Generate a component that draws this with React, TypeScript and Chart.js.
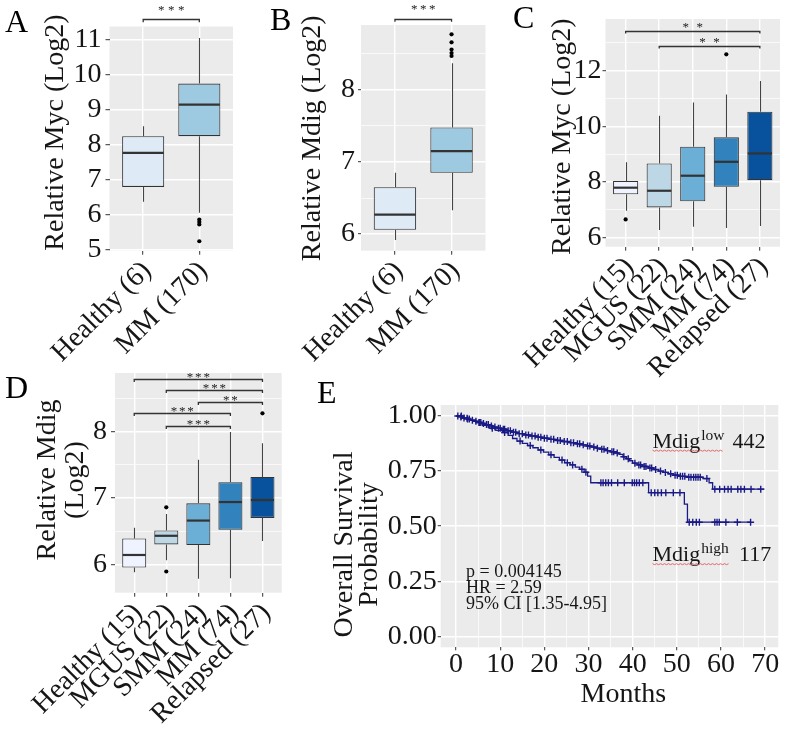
import React, { useEffect, useRef } from 'react';
import { Chart, registerables } from 'chart.js';

Chart.register(...registerables);

const SERIF = "'Liberation Serif', 'Times New Roman', Times, serif";
const PANEL_BG = '#ebebeb';
const INK = '#161616';
const BOX_LINE = '#333333';
const KM_COLOR = '#1a1a86';

/* ---------------- Panel A : Myc, Healthy vs MM ---------------- */
const A_CATEGORIES = ['Healthy (6)', 'MM (170)'];
const A_WHISKER_LOW = [6.38, 6.06];
const A_Q1 = [6.8, 8.25];
const A_MEDIAN = [7.77, 9.15];
const A_Q3 = [8.25, 9.75];
const A_WHISKER_HIGH = [8.53, 11.05];
const A_OUTLIERS = [[], [5.87, 5.8, 5.73, 5.25]];
const A_Y_TICKS = [5, 6, 7, 8, 9, 10, 11];
const A_FILLS = ['#deebf7', '#9ecae1'];
const A_BRACKETS = [{ from: 1, to: 2, y: 11.6, label: '***' }];

/* ---------------- Panel B : Mdig, Healthy vs MM ---------------- */
const B_CATEGORIES = ['Healthy (6)', 'MM (170)'];
const B_WHISKER_LOW = [5.92, 6.33];
const B_Q1 = [6.06, 6.85];
const B_MEDIAN = [6.27, 7.15];
const B_Q3 = [6.65, 7.48];
const B_WHISKER_HIGH = [6.85, 8.37];
const B_OUTLIERS = [[], [8.77, 8.66, 8.56, 8.51, 8.47]];
const B_Y_TICKS = [6, 7, 8];
const B_FILLS = ['#deebf7', '#9ecae1'];
const B_BRACKETS = [{ from: 1, to: 2, y: 8.98, label: '***' }];

/* ---------------- Panel C : Myc by stage ---------------- */
const C_CATEGORIES = ['Healthy (15)', 'MGUS (22)', 'SMM (24)', 'MM (74)', 'Relapsed (27)'];
const C_WHISKER_LOW = [6.97, 6.28, 6.4, 6.35, 6.42];
const C_Q1 = [7.56, 7.09, 7.31, 7.83, 8.07];
const C_MEDIAN = [7.8, 7.69, 8.23, 8.73, 9.03];
const C_Q3 = [8.04, 8.67, 9.27, 9.61, 10.53];
const C_WHISKER_HIGH = [8.71, 10.38, 10.86, 11.15, 11.63];
const C_OUTLIERS = [[6.66], [], [], [12.59], []];
const C_Y_TICKS = [6, 8, 10, 12];
const STAGE_FILLS = ['#eff3ff', '#bdd7e7', '#6baed6', '#3182bd', '#08519c'];
const C_BRACKETS = [
  { from: 1, to: 5, y: 13.44, label: '**' },
  { from: 2, to: 5, y: 12.9, label: '**' },
];

/* ---------------- Panel D : Mdig by stage ---------------- */
const D_CATEGORIES = ['Healthy (15)', 'MGUS (22)', 'SMM (24)', 'MM (74)', 'Relapsed (27)'];
const D_WHISKER_LOW = [5.88, 6.06, 5.78, 5.79, 6.35];
const D_Q1 = [5.95, 6.3, 6.29, 6.52, 6.7];
const D_MEDIAN = [6.14, 6.43, 6.66, 6.94, 6.97];
const D_Q3 = [6.39, 6.51, 6.92, 7.24, 7.32];
const D_WHISKER_HIGH = [6.55, 6.76, 7.58, 8.0, 7.83];
const D_OUTLIERS = [[], [6.86, 5.89], [], [], [8.28]];
const D_Y_TICKS = [6, 7, 8];
const D_BRACKETS = [
  { from: 1, to: 5, y: 8.8, label: '***' },
  { from: 2, to: 5, y: 8.63, label: '***' },
  { from: 3, to: 5, y: 8.45, label: '**' },
  { from: 1, to: 4, y: 8.28, label: '***' },
  { from: 2, to: 4, y: 8.09, label: '***' },
];

/* ---------------- Panel E : Kaplan-Meier ---------------- */
const E_LOW_TIME = [0, 0.7, 1.5, 2.4, 3.3, 4.2, 5.0, 5.8, 6.7, 7.5, 8.4, 9.3, 10.2, 11.4, 12.6, 13.9, 15.3, 16.8, 18.2, 19.6, 21.0, 22.5, 24.1, 25.6, 27.0, 28.3, 29.5, 30.6, 31.7, 32.8, 33.9, 35.0, 36.0, 36.9, 37.8, 38.6, 39.3, 40.0, 41.0, 42.2, 43.5, 44.7, 45.9, 47.0, 48.1, 49.2, 50.5, 52.3, 55.9, 57.3, 58.1, 69.8];
const E_LOW_SURV = [1, 0.996, 0.991, 0.986, 0.981, 0.976, 0.971, 0.966, 0.961, 0.955, 0.95, 0.945, 0.94, 0.933, 0.926, 0.92, 0.914, 0.909, 0.904, 0.899, 0.894, 0.889, 0.884, 0.879, 0.874, 0.869, 0.864, 0.859, 0.854, 0.849, 0.843, 0.838, 0.832, 0.826, 0.815, 0.806, 0.797, 0.786, 0.778, 0.771, 0.764, 0.757, 0.75, 0.744, 0.738, 0.731, 0.726, 0.722, 0.716, 0.697, 0.668, 0.668];
const E_HIGH_TIME = [0, 1.5, 3, 4.5, 6, 7.5, 9, 10.5, 11.8, 12.8, 13.8, 15, 16.2, 17.4, 18.6, 19.8, 21, 22.2, 23.4, 24.6, 25.8, 27, 28, 29, 29.8, 30.5, 43.6, 51.7, 52.4, 66.7];
const E_HIGH_SURV = [1, 0.99, 0.98, 0.97, 0.958, 0.945, 0.935, 0.925, 0.912, 0.898, 0.886, 0.876, 0.866, 0.856, 0.846, 0.836, 0.824, 0.812, 0.8, 0.788, 0.778, 0.768, 0.758, 0.745, 0.727, 0.697, 0.652, 0.6, 0.518, 0.518];
const E_LOW_CENSOR = [0.4, 1.1, 1.8, 2.6, 3.0, 3.7, 4.5, 5.3, 5.6, 6.2, 6.9, 7.3, 8.0, 8.8, 9.6, 10.0, 10.7, 11.0, 11.8, 12.3, 13.0, 13.5, 14.3, 15.0, 15.8, 16.4, 17.2, 17.9, 18.6, 19.2, 20.0, 20.6, 21.5, 22.1, 23.0, 23.6, 24.5, 25.2, 26.0, 26.6, 27.5, 28.0, 28.8, 29.8, 30.3, 31.2, 32.0, 33.0, 33.5, 34.3, 35.3, 35.7, 36.5, 38.0, 39.0, 40.5, 41.4, 41.8, 42.6, 43.0, 43.9, 44.3, 45.2, 46.3, 47.4, 48.6, 49.6, 50.1, 50.8, 51.3, 51.8, 52.7, 53.2, 53.8, 54.3, 54.8, 55.3, 56.8, 58.6, 59.7, 60.8, 61.6, 62.3, 63.8, 64.5, 65.3, 66.8, 69.0];
const E_HIGH_CENSOR = [1.2, 2.5, 5.2, 8.2, 11.0, 14.5, 16.8, 19.2, 21.5, 24.0, 25.2, 26.4, 28.5, 29.4, 32.8, 33.3, 33.9, 34.5, 35.2, 36.6, 38.1, 39.9, 40.4, 40.9, 41.5, 42.3, 44.2, 45.0, 45.7, 46.5, 47.5, 49.2, 50.7, 52.8, 53.6, 54.4, 55.1, 58.6, 59.1, 59.6, 61.1, 63.7, 66.7];
const E_X_TICKS = [0, 10, 20, 30, 40, 50, 60, 70];
const E_Y_TICKS = [0, 0.25, 0.5, 0.75, 1];
const E_GROUP_NAMES = ['Mdig', 'Mdig'];
const E_GROUP_SUPS = ['low', 'high'];
const E_GROUP_COUNTS = ['442', '117'];
const E_STATS_TEXT = ['p = 0.004145', 'HR = 2.59', '95% CI [1.35-4.95]'];

/* ---------------- helpers ---------------- */
type Frame = { left: number; top: number; width: number; height: number };
type Area = { left: number; top: number; right: number; bottom: number };
type Bracket = { from: number; to: number; y: number; label: string };

function minorTicks(major: number[], min: number, max: number): number[] {
  const out: number[] = [];
  const step = major[1] - major[0];
  for (let i = 0; i < major.length - 1; i++) out.push((major[i] + major[i + 1]) / 2);
  const before = major[0] - step / 2;
  const after = major[major.length - 1] + step / 2;
  if (before >= min) out.push(before);
  if (after <= max) out.push(after);
  return out;
}

function inList(list: number[], v: number) {
  return list.some((t) => Math.abs(t - v) < 1e-6);
}

function stepValue(times: number[], surv: number[], t: number) {
  let s = surv[0];
  for (let i = 0; i < times.length; i++) if (times[i] <= t) s = surv[i];
  return s;
}

function drawRotatedTitle(ctx: CanvasRenderingContext2D, lines: string[], xs: number[], cy: number, size: number) {
  ctx.save();
  ctx.fillStyle = INK;
  ctx.font = `${size}px ${SERIF}`;
  ctx.textAlign = 'center';
  ctx.textBaseline = 'alphabetic';
  lines.forEach((line, i) => {
    ctx.save();
    ctx.translate(xs[i], cy);
    ctx.rotate(-Math.PI / 2);
    ctx.fillText(line, 0, 0);
    ctx.restore();
  });
  ctx.restore();
}

function drawLetter(ctx: CanvasRenderingContext2D, letter: string, x: number, y: number) {
  ctx.save();
  ctx.fillStyle = '#000';
  ctx.font = `32px ${SERIF}`;
  ctx.textAlign = 'left';
  ctx.textBaseline = 'alphabetic';
  ctx.fillText(letter, x, y);
  ctx.restore();
}

function fillPanel(chart: any) {
  const { ctx, chartArea: a } = chart;
  ctx.save();
  ctx.fillStyle = PANEL_BG;
  ctx.fillRect(a.left, a.top, a.right - a.left, a.bottom - a.top);
  ctx.restore();
}

type BoxSpec = {
  letter: string;
  categories: string[];
  low: number[];
  q1: number[];
  median: number[];
  q3: number[];
  high: number[];
  outliers: number[][];
  fills: string[];
  yTicks: number[];
  brackets: Bracket[];
  title: string[];
  // layout
  yMin: number;
  yMax: number;
  frame: Frame;
  area: Area;
  titleX: number[];
  titleY: number;
  letterAt: [number, number];
  yTickLen: number;
  yTickPad: number;
  xTickPad: number;
  xLabelShift: number;
  starLift: number;
  starStep: number;
  bracketDrop: number;
};

function makeBoxChart(canvas: HTMLCanvasElement, s: BoxSpec) {
  const n = s.categories.length;
  const minors = minorTicks(s.yTicks, s.yMin, s.yMax);
  const allY = [...s.yTicks, ...minors].sort((a, b) => a - b);
  const tickFont = { family: SERIF, size: 28, lineHeight: 1 };

  const plugin = {
    id: 'boxplot-' + s.letter,
    beforeDraw(chart: any) {
      fillPanel(chart);
    },
    beforeDatasetsDraw(chart: any) {
      const { ctx } = chart;
      const xs = chart.scales.x;
      const ys = chart.scales.y;
      ctx.save();
      ctx.strokeStyle = '#444';
      ctx.lineWidth = 1.1;
      for (let i = 0; i < n; i++) {
        const x = Math.round(xs.getPixelForValue(i + 1)) + 0.5;
        ctx.beginPath();
        ctx.moveTo(x, ys.getPixelForValue(s.high[i]));
        ctx.lineTo(x, ys.getPixelForValue(s.q3[i]));
        ctx.moveTo(x, ys.getPixelForValue(s.q1[i]));
        ctx.lineTo(x, ys.getPixelForValue(s.low[i]));
        ctx.stroke();
      }
      ctx.restore();
    },
    afterDatasetsDraw(chart: any) {
      const { ctx } = chart;
      const xs = chart.scales.x;
      const ys = chart.scales.y;
      const meta = chart.getDatasetMeta(0);
      ctx.save();
      ctx.strokeStyle = BOX_LINE;
      ctx.lineWidth = 2.2;
      for (let i = 0; i < n; i++) {
        const el: any = meta.data[i];
        const x = xs.getPixelForValue(i + 1);
        const w = el.width;
        const y = ys.getPixelForValue(s.median[i]);
        ctx.beginPath();
        ctx.moveTo(x - w / 2 + 0.5, y);
        ctx.lineTo(x + w / 2 - 0.5, y);
        ctx.stroke();
      }
      // significance brackets
      ctx.strokeStyle = '#333';
      ctx.lineWidth = 1.3;
      ctx.fillStyle = '#222';
      ctx.font = `13px ${SERIF}`;
      ctx.textAlign = 'center';
      ctx.textBaseline = 'alphabetic';
      for (const b of s.brackets) {
        const x1 = xs.getPixelForValue(b.from);
        const x2 = xs.getPixelForValue(b.to);
        const y = Math.round(ys.getPixelForValue(b.y)) + 0.5;
        ctx.beginPath();
        ctx.moveTo(x1, y + s.bracketDrop);
        ctx.lineTo(x1, y);
        ctx.lineTo(x2, y);
        ctx.lineTo(x2, y + s.bracketDrop);
        ctx.stroke();
        const mid = (x1 + x2) / 2;
        const cnt = b.label.length;
        for (let k = 0; k < cnt; k++) {
          const sx = mid + (k - (cnt - 1) / 2) * s.starStep;
          ctx.fillText(b.label[k], sx, y - s.starLift + 7);
        }
      }
      ctx.restore();
    },
    afterDraw(chart: any) {
      drawRotatedTitle(chart.ctx, s.title, s.titleX, s.titleY, 28);
      drawLetter(chart.ctx, s.letter, s.letterAt[0], s.letterAt[1]);
    },
  };

  const outlierPoints: { x: number; y: number }[] = [];
  s.outliers.forEach((arr, i) => arr.forEach((v) => outlierPoints.push({ x: i + 1, y: v })));

  return new Chart(canvas, {
    type: 'bar',
    data: {
      datasets: [
        {
          type: 'bar',
          data: s.categories.map((_, i) => ({ x: i + 1, y: [s.q1[i], s.q3[i]] })) as any,
          backgroundColor: s.fills,
          borderColor: BOX_LINE,
          borderWidth: 1.1,
          borderSkipped: false,
          barPercentage: 0.75,
          categoryPercentage: 1,
        } as any,
        {
          type: 'scatter',
          data: outlierPoints,
          pointRadius: 2.1,
          pointBackgroundColor: '#000',
          backgroundColor: '#000',
          pointBorderWidth: 0,
        } as any,
      ],
    },
    options: {
      animation: false,
      responsive: false,
      maintainAspectRatio: false,
      devicePixelRatio: 1,
      events: [],
      layout: {
        padding: { left: 0, top: s.area.top, right: s.frame.width - s.area.right, bottom: 0 },
      },
      plugins: { legend: { display: false }, tooltip: { enabled: false } },
      scales: {
        x: {
          type: 'linear',
          min: 0.4,
          max: n + 0.6,
          offset: false,
          afterBuildTicks: (sc: any) => {
            sc.ticks = s.categories.map((_, i) => ({ value: i + 1 }));
          },
          afterFit: (sc: any) => {
            sc.height = s.frame.height - s.area.bottom;
          },
          ticks: {
            autoSkip: false,
            minRotation: 45,
            maxRotation: 45,
            padding: s.xTickPad,
            labelOffset: s.xLabelShift,
            color: INK,
            font: tickFont,
            callback: (v: any) => s.categories[Math.round(Number(v)) - 1] ?? '',
          },
          grid: {
            offset: false,
            color: '#ffffff',
            lineWidth: 1.4,
            drawTicks: true,
            tickLength: 4,
            tickColor: BOX_LINE,
            tickWidth: 1,
          },
          border: { display: false },
        },
        y: {
          type: 'linear',
          min: s.yMin,
          max: s.yMax,
          afterBuildTicks: (sc: any) => {
            sc.ticks = allY.map((v) => ({ value: v }));
          },
          afterFit: (sc: any) => {
            sc.width = s.area.left;
          },
          ticks: {
            padding: s.yTickPad,
            color: INK,
            font: tickFont,
            callback: (v: any) => (inList(s.yTicks, Number(v)) ? String(v) : ''),
          },
          grid: {
            color: '#ffffff',
            lineWidth: (c: any) => (c.tick && inList(s.yTicks, c.tick.value) ? 1.4 : 0.7),
            drawTicks: true,
            tickLength: s.yTickLen,
            tickWidth: 1,
            tickColor: (c: any) => (c.tick && inList(s.yTicks, c.tick.value) ? BOX_LINE : 'rgba(0,0,0,0)'),
          },
          border: { display: false },
        },
      },
    } as any,
    plugins: [plugin],
  });
}

/* ---------------- panel specs (layout) ---------------- */
const BOX_PANELS: BoxSpec[] = [
  {
    letter: 'A', categories: A_CATEGORIES, low: A_WHISKER_LOW, q1: A_Q1, median: A_MEDIAN, q3: A_Q3, high: A_WHISKER_HIGH,
    outliers: A_OUTLIERS, fills: A_FILLS, yTicks: A_Y_TICKS, brackets: A_BRACKETS, title: ['Relative Myc (Log2)'],
    yMin: 4.98, yMax: 11.38,
    frame: { left: 0, top: 0, width: 255, height: 370 },
    area: { left: 109.5, top: 26.5, right: 233, bottom: 250.7 },
    titleX: [63.3], titleY: 132.5, letterAt: [5, 32],
    yTickLen: 4, yTickPad: 4, xTickPad: 2, xLabelShift: 4, starLift: 13, starStep: 10, bracketDrop: 2.7,
  },
  {
    letter: 'B', categories: B_CATEGORIES, low: B_WHISKER_LOW, q1: B_Q1, median: B_MEDIAN, q3: B_Q3, high: B_WHISKER_HIGH,
    outliers: B_OUTLIERS, fills: B_FILLS, yTicks: B_Y_TICKS, brackets: B_BRACKETS, title: ['Relative Mdig (Log2)'],
    yMin: 5.77, yMax: 8.9,
    frame: { left: 255, top: 0, width: 255, height: 370 },
    area: { left: 106, top: 25, right: 230.5, bottom: 250.7 },
    titleX: [65], titleY: 138.3, letterAt: [15, 30],
    yTickLen: 3, yTickPad: 3, xTickPad: 2, xLabelShift: 4, starLift: 14, starStep: 9, bracketDrop: 2.3,
  },
  {
    letter: 'C', categories: C_CATEGORIES, low: C_WHISKER_LOW, q1: C_Q1, median: C_MEDIAN, q3: C_Q3, high: C_WHISKER_HIGH,
    outliers: C_OUTLIERS, fills: STAGE_FILLS, yTicks: C_Y_TICKS, brackets: C_BRACKETS, title: ['Relative Myc (Log2)'],
    yMin: 5.68, yMax: 13.86,
    frame: { left: 510, top: 0, width: 277, height: 400 },
    area: { left: 95.5, top: 19, right: 270, bottom: 246.7 },
    titleX: [60], titleY: 136.7, letterAt: [3, 28],
    yTickLen: 3, yTickPad: 1, xTickPad: 2, xLabelShift: 4, starLift: 7.4, starStep: 14, bracketDrop: 2,
  },
  {
    letter: 'D', categories: D_CATEGORIES, low: D_WHISKER_LOW, q1: D_Q1, median: D_MEDIAN, q3: D_Q3, high: D_WHISKER_HIGH,
    outliers: D_OUTLIERS, fills: STAGE_FILLS, yTicks: D_Y_TICKS, brackets: D_BRACKETS, title: ['Relative Mdig', '(Log2)'],
    yMin: 5.57, yMax: 8.89,
    frame: { left: 0, top: 355, width: 300, height: 389 },
    area: { left: 115, top: 15, right: 281.7, bottom: 237.7 },
    titleX: [55, 83.3], titleY: 125, letterAt: [5, 43],
    yTickLen: 4, yTickPad: 4, xTickPad: 2, xLabelShift: 4, starLift: 6, starStep: 8.3, bracketDrop: 2.5,
  },
];

const E_FRAME: Frame = { left: 300, top: 370, width: 487, height: 374 };
const E_AREA: Area = { left: 140.7, top: 35, right: 478.3, bottom: 277.3 };

function makeKmChart(canvas: HTMLCanvasElement) {
  const xMin = -3.475;
  const xMax = 72.975;
  const yMin = -0.05;
  const yMax = 1.05;
  const xAll = [...E_X_TICKS, ...minorTicks(E_X_TICKS, xMin, xMax)].sort((a, b) => a - b);
  const yAll = [...E_Y_TICKS, ...minorTicks(E_Y_TICKS, yMin, yMax)].sort((a, b) => a - b);
  const tickFont = { family: SERIF, size: 28, lineHeight: 1 };

  const lowLine = E_LOW_TIME.map((t, i) => ({ x: t, y: E_LOW_SURV[i] }));
  const highLine = E_HIGH_TIME.map((t, i) => ({ x: t, y: E_HIGH_SURV[i] }));
  const lowCensor = E_LOW_CENSOR.map((t) => ({ x: t, y: stepValue(E_LOW_TIME, E_LOW_SURV, t) }));
  const highCensor = E_HIGH_CENSOR.map((t) => ({ x: t, y: stepValue(E_HIGH_TIME, E_HIGH_SURV, t) }));

  const plugin = {
    id: 'km-panel',
    beforeDraw(chart: any) {
      fillPanel(chart);
    },
    afterDraw(chart: any) {
      const { ctx } = chart;
      const xs = chart.scales.x;
      const ys = chart.scales.y;
      drawRotatedTitle(ctx, ['Overall Survival', 'Probability'], [51.7, 76.7], 174.5, 28);
      drawLetter(ctx, 'E', 17, 33);
      ctx.save();
      ctx.fillStyle = INK;
      ctx.textBaseline = 'alphabetic';
      ctx.textAlign = 'center';
      ctx.font = `28px ${SERIF}`;
      ctx.fillText('Months', 323.3, 331.7);

      // group labels
      const labelAt = [
        { t: 44.5, s: 0.856, numT: 62.6 },
        { t: 44.5, s: 0.341, numT: 64.1 },
      ];
      labelAt.forEach((p, i) => {
        const x = xs.getPixelForValue(p.t);
        const y = ys.getPixelForValue(p.s);
        ctx.textAlign = 'left';
        ctx.font = `22px ${SERIF}`;
        ctx.fillText(E_GROUP_NAMES[i], x, y);
        const w1 = ctx.measureText(E_GROUP_NAMES[i]).width;
        ctx.font = `15.5px ${SERIF}`;
        ctx.fillText(E_GROUP_SUPS[i], x + w1 + 1, y - 8);
        const w2 = ctx.measureText(E_GROUP_SUPS[i]).width;
        ctx.font = `22px ${SERIF}`;
        ctx.fillText(E_GROUP_COUNTS[i], xs.getPixelForValue(p.numT), y);
        // spell-check style red squiggle
        ctx.save();
        ctx.strokeStyle = '#e06666';
        ctx.lineWidth = 1;
        ctx.beginPath();
        const x0 = x;
        const x1 = x + w1 + 1 + w2;
        for (let k = 0; x0 + k * 2 <= x1; k++) {
          const px = x0 + k * 2;
          const py = y + 2.5 + (k % 2 === 0 ? 0 : 1);
          if (k === 0) ctx.moveTo(px, py);
          else ctx.lineTo(px, py);
        }
        ctx.stroke();
        ctx.restore();
      });

      // statistics text
      ctx.font = `18px ${SERIF}`;
      ctx.textAlign = 'left';
      const statY = [0.27, 0.197, 0.125];
      E_STATS_TEXT.forEach((line, i) => {
        ctx.fillText(line, xs.getPixelForValue(2.26), ys.getPixelForValue(statY[i]));
      });
      ctx.restore();
    },
  };

  return new Chart(canvas, {
    type: 'line',
    data: {
      datasets: [
        { data: lowLine, borderColor: KM_COLOR, borderWidth: 1.3, stepped: true, pointRadius: 0, fill: false },
        { data: highLine, borderColor: KM_COLOR, borderWidth: 1.3, stepped: true, pointRadius: 0, fill: false },
        {
          type: 'scatter', data: lowCensor, showLine: false, pointStyle: 'cross', pointRadius: 3.5,
          pointBorderColor: KM_COLOR, borderColor: KM_COLOR, pointBorderWidth: 1.4,
        },
        {
          type: 'scatter', data: highCensor, showLine: false, pointStyle: 'cross', pointRadius: 3.5,
          pointBorderColor: KM_COLOR, borderColor: KM_COLOR, pointBorderWidth: 1.4,
        },
      ] as any,
    },
    options: {
      animation: false,
      responsive: false,
      maintainAspectRatio: false,
      devicePixelRatio: 1,
      events: [],
      layout: { padding: { left: 0, top: E_AREA.top, right: E_FRAME.width - E_AREA.right, bottom: 0 } },
      plugins: { legend: { display: false }, tooltip: { enabled: false } },
      scales: {
        x: {
          type: 'linear',
          min: xMin,
          max: xMax,
          afterBuildTicks: (sc: any) => {
            sc.ticks = xAll.map((v) => ({ value: v }));
          },
          afterFit: (sc: any) => {
            sc.height = E_FRAME.height - E_AREA.bottom;
          },
          ticks: {
            autoSkip: false,
            maxRotation: 0,
            minRotation: 0,
            padding: 0,
            color: INK,
            font: tickFont,
            callback: (v: any) => (inList(E_X_TICKS, Number(v)) ? String(v) : ''),
          },
          grid: {
            color: '#ffffff',
            lineWidth: (c: any) => (c.tick && inList(E_X_TICKS, c.tick.value) ? 1.4 : 0.7),
            tickLength: 3,
            tickWidth: 1,
            tickColor: (c: any) => (c.tick && inList(E_X_TICKS, c.tick.value) ? BOX_LINE : 'rgba(0,0,0,0)'),
          },
          border: { display: false },
        },
        y: {
          type: 'linear',
          min: yMin,
          max: yMax,
          afterBuildTicks: (sc: any) => {
            sc.ticks = yAll.map((v) => ({ value: v }));
          },
          afterFit: (sc: any) => {
            sc.width = E_AREA.left;
          },
          ticks: {
            padding: 1,
            color: INK,
            font: tickFont,
            callback: (v: any) => (inList(E_Y_TICKS, Number(v)) ? Number(v).toFixed(2) : ''),
          },
          grid: {
            color: '#ffffff',
            lineWidth: (c: any) => (c.tick && inList(E_Y_TICKS, c.tick.value) ? 1.4 : 0.7),
            tickLength: 3,
            tickWidth: 1,
            tickColor: (c: any) => (c.tick && inList(E_Y_TICKS, c.tick.value) ? BOX_LINE : 'rgba(0,0,0,0)'),
          },
          border: { display: false },
        },
      },
    } as any,
    plugins: [plugin],
  });
}

function ChartCanvas({ frame, make }: { frame: Frame; make: (c: HTMLCanvasElement) => Chart }) {
  const ref = useRef<HTMLCanvasElement | null>(null);
  useEffect(() => {
    if (!ref.current) return;
    const chart = make(ref.current);
    return () => chart.destroy();
  }, []);
  return (
    <canvas
      ref={ref}
      width={frame.width}
      height={frame.height}
      style={{ position: 'absolute', left: frame.left, top: frame.top, width: frame.width, height: frame.height }}
    />
  );
}

export default function App() {
  return (
    <div style={{ position: 'absolute', left: 0, top: 0, width: 787, height: 744, background: '#ffffff', overflow: 'hidden' }}>
      {BOX_PANELS.map((p) => (
        <ChartCanvas key={p.letter} frame={p.frame} make={(c) => makeBoxChart(c, p)} />
      ))}
      <ChartCanvas frame={E_FRAME} make={makeKmChart} />
    </div>
  );
}
